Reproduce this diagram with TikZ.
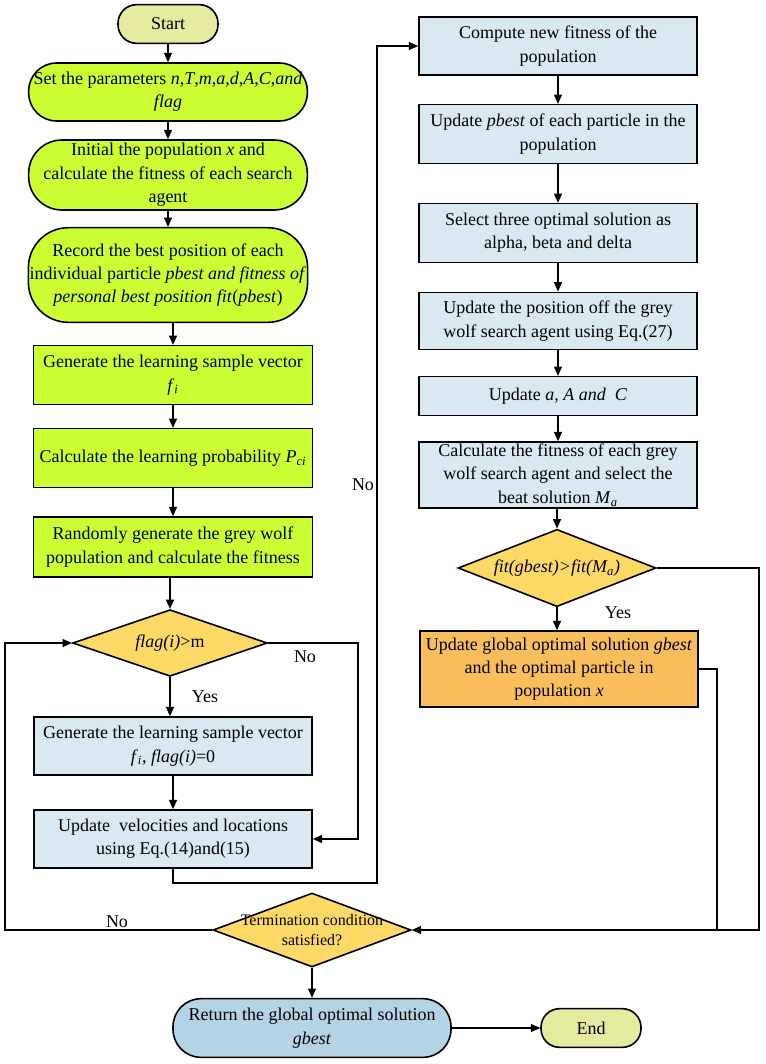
\documentclass[tikz,border=0pt]{standalone}
\usepackage{fontspec}
\setmainfont{Liberation Serif}
\usetikzlibrary{shapes.geometric,arrows.meta}

\definecolor{termfill}{RGB}{228,235,158}
\definecolor{limefill}{RGB}{204,255,51}
\definecolor{bluefill}{RGB}{218,232,241}
\definecolor{yellowfill}{RGB}{255,217,102}
\definecolor{orangefill}{RGB}{250,190,92}
\definecolor{retfill}{RGB}{180,211,229}

\tikzset{
	base/.style={draw=black,line width=1.2pt,align=center,inner sep=1pt,
			font=\fontsize{13.5}{17.5}\selectfont},
	terminal/.style={base,fill=termfill,rounded corners=14pt,minimum width=75pt,minimum height=29pt},
	roundbox/.style={base,fill=limefill,rounded corners=21pt,minimum width=209pt},
	greenbox/.style={base,fill=limefill,minimum width=209pt},
	bluebox/.style={base,fill=bluefill,minimum width=208.5pt},
	decision/.style={base,diamond,aspect=2.8,fill=yellowfill,inner sep=0pt},
	arrow/.style={line width=1pt,-{Triangle[length=7pt,width=6pt]}},
	line/.style={line width=1pt},
	tag/.style={font=\fontsize{13.5}{15}\selectfont}
}

\begin{document}
\begin{tikzpicture}[x=0.75pt,y=-0.75pt]
		\useasboundingbox (0,0) rectangle (765,1064);

		% left column
		\node[terminal] (start) at (168,24) {Start};
		\node[roundbox,minimum height=43.5pt] (param) at (168,92)
		{Set the parameters \textit{n},\textit{T},\textit{m},\textit{a},\textit{d},\textit{A},\textit{C},\textit{and}\\ \textit{flag}};
		\node[roundbox,rounded corners=25pt,minimum height=52.5pt] (init) at (168,175)
		{Initial the population \textit{x} and\\ calculate the fitness of each search\\ agent};
		\node[roundbox,rounded corners=30pt,minimum height=71pt] (record) at (168,275)
		{Record the best position of each\\ individual particle \textit{pbest and fitness of}\\ \textit{personal best position fit}(\textit{pbest})};
		\node[greenbox,minimum height=44pt] (gen) at (173,375)
		{Generate the learning sample vector\\ \textit{f}\textsubscript{\textit{i}}};
		\node[greenbox,minimum height=44pt] (prob) at (173,458)
		{Calculate the learning probability \textit{P}\textsubscript{\textit{ci}}};
		\node[greenbox,minimum height=45pt] (rand) at (173,547)
		{Randomly generate the grey wolf\\ population and calculate the fitness};
		\node[decision,minimum width=146pt,minimum height=50pt] (flag) at (170,643)
		{\textit{flag(i)}>m};
		\node[bluebox,minimum height=43.5pt] (gen2) at (173,746)
		{Generate the learning sample vector\\ \textit{f}\textsubscript{\textit{i}}, \textit{flag(i)}=0};
		\node[bluebox,minimum height=43.5pt] (upd) at (173,839)
		{Update\ \ velocities and locations\\ using Eq.(14)and(15)};

		% right column
		\node[bluebox,minimum height=43.5pt] (comp) at (558,46)
		{Compute new fitness of the\\ population};
		\node[bluebox,minimum height=44pt] (pbest) at (558,134)
		{Update \textit{pbest} of each particle in the\\ population};
		\node[bluebox,minimum height=44pt] (sel) at (558,233)
		{Select three optimal solution as\\ alpha, beta and delta};
		\node[bluebox,minimum height=43pt] (pos) at (558,321)
		{Update the position off the grey\\ wolf search agent using Eq.(27)};
		\node[bluebox,minimum height=29pt] (uac) at (558,396)
		{Update \textit{a}, \textit{A and\ \ C}};
		\node[bluebox,minimum height=49.5pt] (calc) at (558,475)
		{Calculate the fitness of each grey\\ wolf search agent and select the\\ beat solution \textit{M}\textsubscript{\textit{a}}};
		\node[decision,minimum width=148.5pt,minimum height=58pt] (fitd) at (557,568)
		{\textit{fit(gbest)>fit(M\textsubscript{a})}};
		\node[bluebox,fill=orangefill,minimum height=57pt] (glob) at (559,669)
		{Update global optimal solution \textit{gbest}\\ and the optimal particle in\\ population \textit{x}};

		% bottom
		\node[decision,minimum width=148.5pt,minimum height=55.5pt,
			label={[font=\fontsize{12}{15}\selectfont,align=center]center:{Termination condition\\ satisfied?}}] (term) at (312,930) {};
		\node[bluebox,fill=retfill,rounded corners=21pt,minimum height=44pt] (ret) at (312,1028)
		{Return the global optimal solution\\ \textit{gbest}};
		\node[terminal] (endn) at (591,1028) {End};

		% turning points
		\coordinate (c1) at (358,643);
		\coordinate (c2) at (377,883);
		\coordinate (c3) at (759,568);
		\coordinate (c4) at (717,930);
		\coordinate (c5) at (5,930);

		% main flow
		\draw[arrow] (start) -- (param);
		\draw[arrow] (param) -- (init);
		\draw[arrow] (init) -- (record);
		\draw[arrow] (record.south -| gen) -- (gen);
		\draw[arrow] (gen) -- (prob);
		\draw[arrow] (prob) -- (rand);
		\draw[arrow] (rand.south -| flag) -- (flag);
		\draw[arrow] (flag) -- (flag.south |- gen2.north);
		\draw[arrow] (gen2) -- (upd);
		\draw[arrow] (flag.east) -- (c1) |- (upd.east);
		\draw[arrow] (upd.south) |- (c2) |- (comp.west);

		\draw[arrow] (comp) -- (pbest);
		\draw[arrow] (pbest) -- (sel);
		\draw[arrow] (sel) -- (pos);
		\draw[arrow] (pos) -- (uac);
		\draw[arrow] (uac) -- (calc);
		\draw[arrow] (calc.south -| fitd) -- (fitd);
		\draw[arrow] (fitd) -- (fitd.south |- glob.north);
		\draw[arrow] (fitd.east) -- (c3) |- (term.east);
		\draw[line] (glob.east) -| (c4);

		\draw[arrow] (term.west) -- (c5) |- (flag.west);
		\draw[arrow] (term) -- (ret);
		\draw[arrow] (ret) -- (endn);

		% labels
		\node[tag] (yes1) at (205,697) {Yes};
		\node[tag] (no1) at (305,657) {No};
		\node[tag] (no2) at (363,485) {No};
		\node[tag] (yes2) at (618,613) {Yes};
		\node[tag] (no3) at (117,922) {No};

	\end{tikzpicture}
\end{document}
